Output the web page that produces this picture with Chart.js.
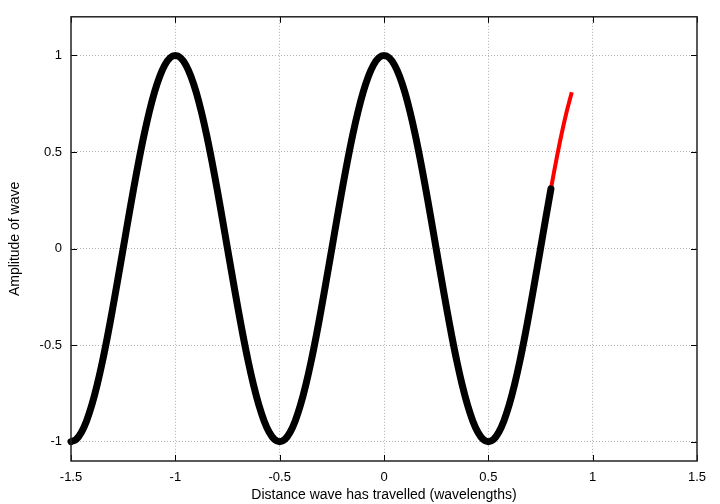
<!DOCTYPE html>
<html>
<head>
<meta charset="utf-8">
<script src="https://cdn.jsdelivr.net/npm/chart.js@4/dist/chart.umd.min.js"></script>
<style>
html,body{margin:0;padding:0;background:#fff;}
#wrap{width:720px;height:504px;}
</style>
</head>
<body>
<div id="wrap"><canvas id="c" width="720" height="504"></canvas></div>
<script>
// Distance travelled (wavelengths)
const redX = [-1.5,-1.475,-1.45,-1.425,-1.4,-1.375,-1.35,-1.325,-1.3,-1.275,-1.25,-1.225,-1.2,-1.175,-1.15,-1.125,-1.1,-1.075,-1.05,-1.025,-1,
-0.975,-0.95,-0.925,-0.9,-0.875,-0.85,-0.825,-0.8,-0.775,-0.75,-0.725,-0.7,-0.675,-0.65,-0.625,-0.6,-0.575,-0.55,-0.525,-0.5,
-0.475,-0.45,-0.425,-0.4,-0.375,-0.35,-0.325,-0.3,-0.275,-0.25,-0.225,-0.2,-0.175,-0.15,-0.125,-0.1,-0.075,-0.05,-0.025,0,
0.025,0.05,0.075,0.1,0.125,0.15,0.175,0.2,0.225,0.25,0.275,0.3,0.325,0.35,0.375,0.4,0.425,0.45,0.475,0.5,
0.525,0.55,0.575,0.6,0.625,0.65,0.675,0.7,0.725,0.75,0.775,0.8,0.825,0.85,0.875,0.9];
// Amplitude of wave (red, full trace)
const redY = [-1,-0.988,-0.951,-0.891,-0.809,-0.707,-0.588,-0.454,-0.309,-0.156,0,0.156,0.309,0.454,0.588,0.707,0.809,0.891,0.951,0.988,1,
0.988,0.951,0.891,0.809,0.707,0.588,0.454,0.309,0.156,0,-0.156,-0.309,-0.454,-0.588,-0.707,-0.809,-0.891,-0.951,-0.988,-1,
-0.988,-0.951,-0.891,-0.809,-0.707,-0.588,-0.454,-0.309,-0.156,0,0.156,0.309,0.454,0.588,0.707,0.809,0.891,0.951,0.988,1,
0.988,0.951,0.891,0.809,0.707,0.588,0.454,0.309,0.156,0,-0.156,-0.309,-0.454,-0.588,-0.707,-0.809,-0.891,-0.951,-0.988,-1,
-0.988,-0.951,-0.891,-0.809,-0.707,-0.588,-0.454,-0.309,-0.156,0,0.156,0.309,0.454,0.588,0.707,0.809];
// Black trace stops at 0.8 wavelengths
const blackCount = 93;
const blackX = redX.slice(0, blackCount);
const blackY = redY.slice(0, blackCount);

const xTicks = [-1.5,-1,-0.5,0,0.5,1,1.5];
const yTicks = [-1,-0.5,0,0.5,1];

const toPts = (xs, ys) => xs.map((x, i) => ({x: x, y: ys[i]}));

const FONT = "'Liberation Sans', Arial, sans-serif";

const framePlugin = {
  id: 'frame',
  afterDatasetsDraw(chart) {
    const {ctx, chartArea: a, scales} = chart;
    ctx.save();
    ctx.strokeStyle = '#000';
    ctx.lineWidth = 1;
    const tl = 6;
    ctx.beginPath();
    xTicks.forEach(v => {
      const px = Math.round(scales.x.getPixelForValue(v)) + 0.5;
      ctx.moveTo(px, a.bottom); ctx.lineTo(px, a.bottom - tl);
      ctx.moveTo(px, a.top); ctx.lineTo(px, a.top + tl);
    });
    yTicks.forEach(v => {
      const py = Math.round(scales.y.getPixelForValue(v)) + 0.5;
      ctx.moveTo(a.left, py); ctx.lineTo(a.left + tl, py);
      ctx.moveTo(a.right, py); ctx.lineTo(a.right - tl, py);
    });
    ctx.stroke();
    ctx.strokeStyle = '#222';
    ctx.lineWidth = 1.5;
    ctx.strokeRect(a.left, a.top, a.right - a.left, a.bottom - a.top);
    ctx.restore();
  }
};

new Chart(document.getElementById('c'), {
  type: 'scatter',
  data: {
    datasets: [
      {
        data: toPts(blackX, blackY),
        showLine: true,
        borderColor: '#000',
        borderWidth: 7,
        borderCapStyle: 'round',
        borderJoinStyle: 'round',
        pointRadius: 0,
        tension: 0.3,
        clip: false,
        order: 0
      },
      {
        data: toPts(redX, redY),
        showLine: true,
        borderColor: '#ff0000',
        borderWidth: 4,
        borderCapStyle: 'butt',
        borderJoinStyle: 'round',
        pointRadius: 0,
        tension: 0.3,
        clip: false,
        order: 1
      }
    ]
  },
  options: {
    responsive: false,
    animation: false,
    devicePixelRatio: 1,
    layout: {padding: {top: 16, right: 23, left: 0, bottom: 0}},
    plugins: {legend: {display: false}, tooltip: {enabled: false}},
    scales: {
      x: {
        type: 'linear',
        min: -1.5, max: 1.5,
        afterBuildTicks: s => { s.ticks = xTicks.map(v => ({value: v})); },
        afterFit: s => { s.height = 43; },
        ticks: {
          color: '#000', padding: 9,
          font: {family: FONT, size: 13},
          callback: v => String(+v.toFixed(2)),
          maxRotation: 0
        },
        grid: {
          color: ctx => (ctx.tick && (ctx.tick.value === -1.5 || ctx.tick.value === 1.5)) ? 'rgba(0,0,0,0)' : '#b0b0b0',
          lineWidth: 1, drawTicks: false
        },
        border: {display: false, dash: [1, 2]},
        title: {
          display: true, text: 'Distance wave has travelled (wavelengths)',
          color: '#000', font: {family: FONT, size: 14}, padding: {top: 4, bottom: 0}
        }
      },
      y: {
        type: 'linear',
        min: -1.1, max: 1.2,
        afterBuildTicks: s => { s.ticks = yTicks.map(v => ({value: v})); },
        afterFit: s => { s.width = 71; },
        ticks: {
          color: '#000', padding: 9,
          font: {family: FONT, size: 13},
          callback: v => String(+v.toFixed(2))
        },
        grid: {color: '#b0b0b0', lineWidth: 1, drawTicks: false},
        border: {display: false, dash: [1, 2]},
        title: {
          display: true, text: 'Amplitude of wave',
          color: '#000', font: {family: FONT, size: 14}, padding: {top: 7, bottom: 0}
        }
      }
    }
  },
  plugins: [framePlugin]
});
</script>
</body>
</html>
